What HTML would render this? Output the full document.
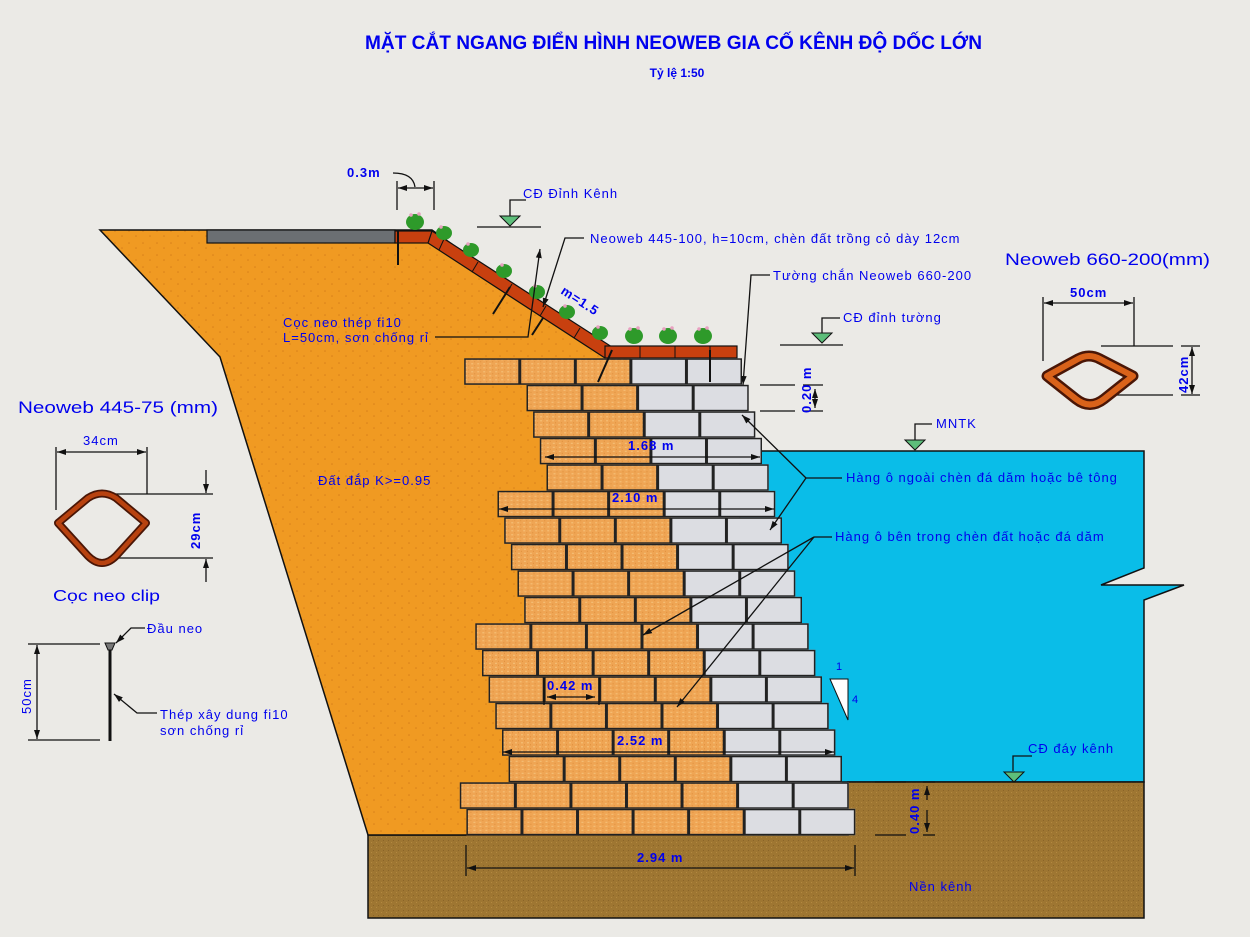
<!DOCTYPE html>
<html><head><meta charset="utf-8"><style>
html,body{margin:0;padding:0;background:#EBEAE6;}
svg{display:block;}
text{font-family:"Liberation Sans",sans-serif;fill:#0000EE;font-size:13px;letter-spacing:1px;}
.b{font-weight:bold;}
</style></head><body>
<svg width="1250" height="937" viewBox="0 0 1250 937" xmlns="http://www.w3.org/2000/svg">
<defs>
<pattern id="cells" width="55.56" height="26.5" patternUnits="userSpaceOnUse"><rect x="0.75" y="0.75" width="54.06" height="25" fill="none" stroke="#222" stroke-width="1.5"/></pattern>
<pattern id="dots" width="14" height="12" patternUnits="userSpaceOnUse"><rect width="14" height="12" fill="#F09A22"/><circle cx="3" cy="3" r="0.8" fill="#D9801A"/><circle cx="10" cy="8" r="0.8" fill="#D9801A"/></pattern>
<pattern id="ob" width="6" height="4" patternUnits="userSpaceOnUse"><rect width="6" height="4" fill="#EFA554"/><rect x="1" y="1" width="2" height="1" fill="#F6C27A"/><rect x="4" y="3" width="1" height="1" fill="#DE8E3A"/></pattern>
<pattern id="br" width="5" height="5" patternUnits="userSpaceOnUse"><rect width="5" height="5" fill="#9E7632"/><rect x="1" y="2" width="1" height="1" fill="#B38840"/><rect x="3" y="0" width="1" height="1" fill="#8A6428"/></pattern>
<marker id="ar" markerWidth="10" markerHeight="8" refX="9" refY="4" orient="auto" markerUnits="userSpaceOnUse"><path d="M0,1 L9,4 L0,7 Z" fill="#111"/></marker>
<marker id="as" markerWidth="10" markerHeight="8" refX="1" refY="4" orient="auto" markerUnits="userSpaceOnUse"><path d="M10,1 L1,4 L10,7 Z" fill="#111"/></marker>
</defs>

<text x="365" y="49" class="b" style="font-size:19px;letter-spacing:0" textLength="617" lengthAdjust="spacingAndGlyphs">MẶT CẮT NGANG ĐIỂN HÌNH NEOWEB GIA CỐ KÊNH ĐỘ DỐC LỚN</text>
<text x="677" y="77" class="b" style="font-size:12px;letter-spacing:0" text-anchor="middle">Tỷ lệ 1:50</text>

<polygon points="740,451 1144,451 1144,568 1101,585 1184,585 1144,600 1144,782 740,782" fill="#0ABDE8" stroke="#111" stroke-width="1.5"/>
<path d="M368,835 H848 V782 H1144 V918 H368 Z" fill="url(#br)" stroke="#111" stroke-width="1.5"/>
<polygon points="100,230 432,230 610,356 560,800 466,835 368,835 220,357" fill="url(#dots)" stroke="#111" stroke-width="1.5"/>
<rect x="207" y="230" width="188" height="13" fill="#6B6F73" stroke="#111" stroke-width="1.2"/>
<rect x="395" y="231" width="37" height="12" fill="#C8400F" stroke="#111" stroke-width="1.2"/>
<polygon points="432,231 612,347 605,358 428,243" fill="#C8400F" stroke="#111" stroke-width="1.2"/>
<g stroke="#111" stroke-width="1"><line x1="444" y1="239" x2="439" y2="250"/><line x1="478" y1="262" x2="472" y2="272"/><line x1="512" y1="284" x2="506" y2="294"/><line x1="546" y1="306" x2="540" y2="316"/><line x1="580" y1="328" x2="574" y2="338"/></g>
<rect x="605" y="346" width="132" height="12" fill="#C8400F" stroke="#111" stroke-width="1.2"/>
<g stroke="#111" stroke-width="1"><line x1="640" y1="346" x2="640" y2="358"/><line x1="675" y1="346" x2="675" y2="358"/><line x1="710" y1="346" x2="710" y2="358"/></g>

<g>
<g transform="translate(464.2,358.3)"><rect width="166.7" height="26.5" fill="url(#ob)"/><rect x="166.7" width="111.1" height="26.5" fill="#DCDDE2"/><rect width="277.8" height="26.5" fill="url(#cells)"/></g>
<g transform="translate(526.5,384.8)"><rect width="111.1" height="26.5" fill="url(#ob)"/><rect x="111.1" width="111.1" height="26.5" fill="#DCDDE2"/><rect width="222.2" height="26.5" fill="url(#cells)"/></g>
<g transform="translate(533.1,411.3)"><rect width="111.1" height="26.5" fill="url(#ob)"/><rect x="111.1" width="111.1" height="26.5" fill="#DCDDE2"/><rect width="222.2" height="26.5" fill="url(#cells)"/></g>
<g transform="translate(539.8,437.8)"><rect width="111.1" height="26.5" fill="url(#ob)"/><rect x="111.1" width="111.1" height="26.5" fill="#DCDDE2"/><rect width="222.2" height="26.5" fill="url(#cells)"/></g>
<g transform="translate(546.5,464.3)"><rect width="111.1" height="26.5" fill="url(#ob)"/><rect x="111.1" width="111.1" height="26.5" fill="#DCDDE2"/><rect width="222.2" height="26.5" fill="url(#cells)"/></g>
<g transform="translate(497.5,490.8)"><rect width="166.7" height="26.5" fill="url(#ob)"/><rect x="166.7" width="111.1" height="26.5" fill="#DCDDE2"/><rect width="277.8" height="26.5" fill="url(#cells)"/></g>
<g transform="translate(504.2,517.3)"><rect width="166.7" height="26.5" fill="url(#ob)"/><rect x="166.7" width="111.1" height="26.5" fill="#DCDDE2"/><rect width="277.8" height="26.5" fill="url(#cells)"/></g>
<g transform="translate(510.9,543.8)"><rect width="166.7" height="26.5" fill="url(#ob)"/><rect x="166.7" width="111.1" height="26.5" fill="#DCDDE2"/><rect width="277.8" height="26.5" fill="url(#cells)"/></g>
<g transform="translate(517.5,570.3)"><rect width="166.7" height="26.5" fill="url(#ob)"/><rect x="166.7" width="111.1" height="26.5" fill="#DCDDE2"/><rect width="277.8" height="26.5" fill="url(#cells)"/></g>
<g transform="translate(524.2,596.8)"><rect width="166.7" height="26.5" fill="url(#ob)"/><rect x="166.7" width="111.1" height="26.5" fill="#DCDDE2"/><rect width="277.8" height="26.5" fill="url(#cells)"/></g>
<g transform="translate(475.3,623.3)"><rect width="222.2" height="26.5" fill="url(#ob)"/><rect x="222.2" width="111.1" height="26.5" fill="#DCDDE2"/><rect width="333.4" height="26.5" fill="url(#cells)"/></g>
<g transform="translate(482,649.8)"><rect width="222.2" height="26.5" fill="url(#ob)"/><rect x="222.2" width="111.1" height="26.5" fill="#DCDDE2"/><rect width="333.4" height="26.5" fill="url(#cells)"/></g>
<g transform="translate(488.6,676.3)"><rect width="222.2" height="26.5" fill="url(#ob)"/><rect x="222.2" width="111.1" height="26.5" fill="#DCDDE2"/><rect width="333.4" height="26.5" fill="url(#cells)"/></g>
<g transform="translate(495.3,702.8)"><rect width="222.2" height="26.5" fill="url(#ob)"/><rect x="222.2" width="111.1" height="26.5" fill="#DCDDE2"/><rect width="333.4" height="26.5" fill="url(#cells)"/></g>
<g transform="translate(502,729.3)"><rect width="222.2" height="26.5" fill="url(#ob)"/><rect x="222.2" width="111.1" height="26.5" fill="#DCDDE2"/><rect width="333.4" height="26.5" fill="url(#cells)"/></g>
<g transform="translate(508.6,755.8)"><rect width="222.2" height="26.5" fill="url(#ob)"/><rect x="222.2" width="111.1" height="26.5" fill="#DCDDE2"/><rect width="333.4" height="26.5" fill="url(#cells)"/></g>
<g transform="translate(459.8,782.3)"><rect width="277.8" height="26.5" fill="url(#ob)"/><rect x="277.8" width="111.1" height="26.5" fill="#DCDDE2"/><rect width="388.9" height="26.5" fill="url(#cells)"/></g>
<g transform="translate(466.4,808.8)"><rect width="277.8" height="26.5" fill="url(#ob)"/><rect x="277.8" width="111.1" height="26.5" fill="#DCDDE2"/><rect width="388.9" height="26.5" fill="url(#cells)"/></g>
</g>

<g stroke="#111" stroke-width="2"><line x1="398" y1="231" x2="398" y2="265"/><line x1="710" y1="350" x2="710" y2="382"/><line x1="612" y1="350" x2="598" y2="382"/><line x1="510" y1="287" x2="493" y2="314"/><line x1="543" y1="318" x2="532" y2="335"/></g>

<g>
<g fill="#2E9A2A"><ellipse cx="415" cy="222" rx="9" ry="8"/><ellipse cx="444" cy="233" rx="8" ry="7"/><ellipse cx="471" cy="250" rx="8" ry="7"/><ellipse cx="504" cy="271" rx="8" ry="7"/><ellipse cx="537" cy="292" rx="8" ry="7"/><ellipse cx="567" cy="312" rx="8" ry="7"/><ellipse cx="600" cy="333" rx="8" ry="7"/><ellipse cx="634" cy="336" rx="9" ry="8"/><ellipse cx="668" cy="336" rx="9" ry="8"/><ellipse cx="703" cy="336" rx="9" ry="8"/></g>
<g fill="#E8A0C0"><circle cx="411" cy="215" r="1.8"/><circle cx="419" cy="214" r="1.8"/><circle cx="441" cy="227" r="1.8"/><circle cx="468" cy="244" r="1.8"/><circle cx="502" cy="265" r="1.8"/><circle cx="535" cy="286" r="1.8"/><circle cx="565" cy="306" r="1.8"/><circle cx="598" cy="327" r="1.8"/><circle cx="630" cy="329" r="1.8"/><circle cx="638" cy="328" r="1.8"/><circle cx="664" cy="329" r="1.8"/><circle cx="672" cy="328" r="1.8"/><circle cx="699" cy="329" r="1.8"/><circle cx="707" cy="328" r="1.8"/></g>
</g>

<g stroke="#111" stroke-width="1.3" fill="none">
<path d="M393,173 Q413,173 415,187"/><line x1="397" y1="181" x2="397" y2="210"/><line x1="434" y1="181" x2="434" y2="210"/>
<line x1="415" y1="188" x2="398" y2="188" marker-end="url(#ar)"/><line x1="415" y1="188" x2="433" y2="188" marker-end="url(#ar)"/>
<polyline points="526,200 510,200 510,216"/><line x1="477" y1="227" x2="541" y2="227"/>
<polyline points="584,238 565,238 543,307" marker-end="url(#ar)"/>
<polyline points="435,337 528,337 540,249" marker-end="url(#ar)"/>
<polyline points="770,275 751,275 743,385" marker-end="url(#ar)"/>
<polyline points="840,318 822,318 822,333"/><line x1="780" y1="345" x2="843" y2="345"/>
<line x1="760" y1="385" x2="795" y2="385"/><line x1="803" y1="385" x2="823" y2="385"/>
<line x1="760" y1="411" x2="795" y2="411"/><line x1="803" y1="411" x2="823" y2="411"/>
<line x1="815" y1="398" x2="815" y2="389" marker-end="url(#ar)"/><line x1="815" y1="398" x2="815" y2="408" marker-end="url(#ar)"/>
<polyline points="932,424 915,424 915,440"/>
<line x1="806" y1="478" x2="842" y2="478"/><line x1="806" y1="478" x2="742" y2="415" marker-end="url(#ar)"/><line x1="806" y1="478" x2="770" y2="530" marker-end="url(#ar)"/>
<line x1="814" y1="537" x2="832" y2="537"/><line x1="814" y1="537" x2="643" y2="635" marker-end="url(#ar)"/><line x1="814" y1="537" x2="677" y2="707" marker-end="url(#ar)"/>
<line x1="545" y1="457" x2="760" y2="457" marker-start="url(#as)" marker-end="url(#ar)"/>
<line x1="499" y1="509" x2="774" y2="509" marker-start="url(#as)" marker-end="url(#ar)"/>
<line x1="547" y1="697" x2="595" y2="697" marker-start="url(#as)" marker-end="url(#ar)"/>
<line x1="544" y1="678" x2="544" y2="705"/><line x1="599" y1="678" x2="599" y2="705"/>
<line x1="503" y1="752" x2="834" y2="752" marker-start="url(#as)" marker-end="url(#ar)"/>
<line x1="466" y1="845" x2="466" y2="876"/><line x1="855" y1="845" x2="855" y2="876"/>
<line x1="467" y1="868" x2="854" y2="868" marker-start="url(#as)" marker-end="url(#ar)"/>
<line x1="875" y1="782" x2="906" y2="782"/><line x1="923" y1="782" x2="935" y2="782"/>
<line x1="875" y1="835" x2="906" y2="835"/><line x1="923" y1="835" x2="935" y2="835"/>
<line x1="927" y1="800" x2="927" y2="786" marker-end="url(#ar)"/><line x1="927" y1="810" x2="927" y2="832" marker-end="url(#ar)"/>
<polyline points="1032,756 1013,756 1013,771"/>
</g>
<g fill="#5DBE7A" stroke="#111" stroke-width="1">
<polygon points="500,216 520,216 510,226"/><polygon points="812,333 832,333 822,343"/><polygon points="905,440 925,440 915,450"/><polygon points="1004,772 1024,772 1014,782"/>
</g>
<polygon points="830,679 848,679 848,720" fill="#fff" stroke="#111" stroke-width="1"/>
<text x="836" y="670" style="font-size:11px">1</text><text x="852" y="703" style="font-size:11px">4</text>

<text x="347" y="177" class="b">0.3m</text>
<text x="523" y="198">CĐ Đỉnh Kênh</text>
<text x="590" y="243">Neoweb 445-100, h=10cm, chèn đất trồng cỏ dày 12cm</text>
<text x="283" y="327">Cọc neo thép fi10</text>
<text x="283" y="342">L=50cm, sơn chống rỉ</text>
<text x="773" y="280">Tường chắn Neoweb 660-200</text>
<text x="843" y="322">CĐ đỉnh tường</text>
<text x="936" y="428">MNTK</text>
<text x="846" y="482">Hàng ô ngoài chèn đá dăm hoặc bê tông</text>
<text x="835" y="541">Hàng ô bên trong chèn đất hoặc đá dăm</text>
<text x="318" y="485">Đất đắp K&gt;=0.95</text>
<text x="1028" y="753">CĐ đáy kênh</text>
<text x="909" y="891">Nền kênh</text>
<text x="628" y="450" class="b">1.68 m</text>
<text x="612" y="502" class="b">2.10 m</text>
<text x="547" y="690" class="b">0.42 m</text>
<text x="617" y="745" class="b">2.52 m</text>
<text x="637" y="862" class="b">2.94 m</text>
<text transform="translate(811,413) rotate(-90)" class="b">0.20 m</text>
<text transform="translate(919,834) rotate(-90)" class="b">0.40 m</text>
<text transform="translate(560,293) rotate(33)" class="b" style="font-size:13px">m=1.5</text>

<text x="18" y="413" style="font-size:17px;letter-spacing:0" textLength="200" lengthAdjust="spacingAndGlyphs">Neoweb 445-75 (mm)</text>
<text x="83" y="445">34cm</text>
<g stroke="#111" stroke-width="1.3" fill="none">
<line x1="56" y1="447" x2="56" y2="510"/><line x1="147" y1="447" x2="147" y2="494"/>
<line x1="57" y1="452" x2="146" y2="452" marker-start="url(#as)" marker-end="url(#ar)"/>
<line x1="115" y1="494" x2="213" y2="494"/><line x1="115" y1="558" x2="213" y2="558"/>
<line x1="206" y1="470" x2="206" y2="493" marker-end="url(#ar)"/><line x1="206" y1="582" x2="206" y2="559" marker-end="url(#ar)"/>
<line x1="28" y1="644" x2="100" y2="644"/><line x1="28" y1="740" x2="100" y2="740"/>
<line x1="37" y1="692" x2="37" y2="645" marker-end="url(#ar)"/><line x1="37" y1="692" x2="37" y2="739" marker-end="url(#ar)"/>
<polyline points="145,628 131,628 116,643" marker-end="url(#ar)"/>
<polyline points="157,713 137,713 114,694" marker-end="url(#ar)"/>
</g>
<path d="M58,523 L88,498 Q102,489 116,498 L146,523 L116,556 Q102,570 88,556 Z" fill="none" stroke="#4A1606" stroke-width="8" stroke-linejoin="round"/>
<path d="M58,523 L88,498 Q102,489 116,498 L146,523 L116,556 Q102,570 88,556 Z" fill="none" stroke="#B8420F" stroke-width="4.5" stroke-linejoin="round"/>
<text transform="translate(200,549) rotate(-90)" class="b">29cm</text>
<text x="53" y="601" style="font-size:16px;letter-spacing:0" textLength="107" lengthAdjust="spacingAndGlyphs">Cọc neo clip</text>
<line x1="110" y1="645" x2="110" y2="741" stroke="#111" stroke-width="3"/>
<polygon points="105,643 115,643 112,650 108,650" fill="#777" stroke="#111"/>
<text x="147" y="633">Đầu neo</text>
<text x="160" y="719">Thép xây dung fi10</text>
<text x="160" y="735">sơn chống rỉ</text>
<text transform="translate(31,714) rotate(-90)">50cm</text>

<text x="1005" y="265" style="font-size:17px;letter-spacing:0" textLength="205" lengthAdjust="spacingAndGlyphs">Neoweb 660-200(mm)</text>
<text x="1070" y="297" class="b">50cm</text>
<g stroke="#111" stroke-width="1.3" fill="none">
<line x1="1043" y1="297" x2="1043" y2="361"/><line x1="1134" y1="297" x2="1134" y2="346"/>
<line x1="1044" y1="303" x2="1133" y2="303" marker-start="url(#as)" marker-end="url(#ar)"/>
<line x1="1101" y1="346" x2="1173" y2="346"/><line x1="1117" y1="395" x2="1173" y2="395"/>
<line x1="1181" y1="346" x2="1200" y2="346"/><line x1="1181" y1="395" x2="1200" y2="395"/>
<line x1="1192" y1="370" x2="1192" y2="347" marker-end="url(#ar)"/><line x1="1192" y1="370" x2="1192" y2="394" marker-end="url(#ar)"/>
</g>
<path d="M1047,376 L1078,359 Q1089,353 1100,359 L1133,376 L1104,399 Q1090,410 1076,399 Z" fill="none" stroke="#4A1606" stroke-width="11" stroke-linejoin="round"/>
<path d="M1047,376 L1078,359 Q1089,353 1100,359 L1133,376 L1104,399 Q1090,410 1076,399 Z" fill="none" stroke="#D9621A" stroke-width="6" stroke-linejoin="round"/>
<text transform="translate(1188,393) rotate(-90)" class="b">42cm</text>
</svg>
</body></html>
